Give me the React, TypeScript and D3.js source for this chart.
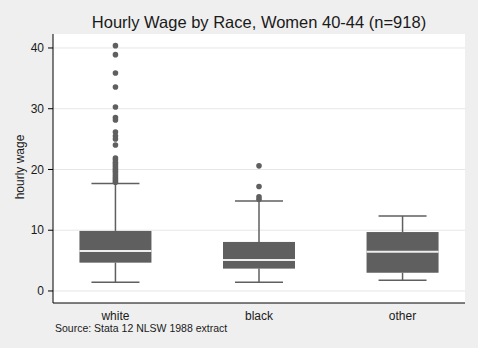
import React from "react";
import * as d3 from "d3";

const categories = ["white", "black", "other"];
const lowerWhisker = [1.43, 1.43, 1.76];
const q1 = [4.66, 3.68, 3.0];
const median = [6.58, 5.1, 6.47];
const q3 = [9.88, 8.07, 9.7];
const upperWhisker = [17.7, 14.8, 12.35];
const outliersWhite = [40.38, 38.9, 35.88, 33.58, 30.29, 28.56, 28.15, 26.17, 25.51, 25.02, 24.03, 21.9, 21.6, 21.2, 20.9, 20.6, 20.3, 20.0, 19.7, 19.4, 19.1, 18.8, 18.5, 18.2, 17.9];
const outliersBlack = [20.6, 17.2, 15.5, 15.1];
const outliersOther: number[] = [];
const outliers = [outliersWhite, outliersBlack, outliersOther];
const yTicks = [0, 10, 20, 30, 40];

const W = 478, H = 348;
const left = 53, right = 465, top = 34, bottom = 303;
const GRAY = "#5f5f5f";
const FONT = "Arial, 'Liberation Sans', sans-serif";

export default function App() {
  const y = d3.scaleLinear().domain([-1.98, 42.3]).range([bottom, top]);
  const x = d3.scalePoint<string>().domain(categories).range([left, right]).padding(0.435);
  const boxW = 72, capW = 48;
  return (
    <svg width={W} height={H} style={{ position: "absolute", left: 0, top: 0 }} fontFamily={FONT}>
      <rect x={0} y={0} width={W} height={H} fill="#efefef" />
      <rect x={left} y={top} width={right - left} height={bottom - top} fill="#ffffff" />
      {yTicks.map((t) => (
        <g key={t}>
          <line x1={left} x2={right} y1={y(t)} y2={y(t)} stroke="#e6e6e6" strokeWidth={1} />
          <line x1={left - 5} x2={left} y1={y(t)} y2={y(t)} stroke="#000" strokeWidth={1} />
          <text x={left - 9} y={y(t)} dy="0.35em" textAnchor="end" fontSize={12} fill="#1a1a1a">{t}</text>
        </g>
      ))}
      {categories.map((c, i) => {
        const cx = x(c)!;
        return (
          <g key={c}>
            <line x1={cx} x2={cx} y1={y(upperWhisker[i])} y2={y(q3[i])} stroke={GRAY} strokeWidth={1.5} />
            <line x1={cx} x2={cx} y1={y(q1[i])} y2={y(lowerWhisker[i])} stroke={GRAY} strokeWidth={1.5} />
            <line x1={cx - capW / 2} x2={cx + capW / 2} y1={y(upperWhisker[i])} y2={y(upperWhisker[i])} stroke={GRAY} strokeWidth={1.5} />
            <line x1={cx - capW / 2} x2={cx + capW / 2} y1={y(lowerWhisker[i])} y2={y(lowerWhisker[i])} stroke={GRAY} strokeWidth={1.5} />
            <rect x={cx - boxW / 2} y={y(q3[i])} width={boxW} height={y(q1[i]) - y(q3[i])} fill={GRAY} />
            <line x1={cx - boxW / 2} x2={cx + boxW / 2} y1={y(median[i])} y2={y(median[i])} stroke="#eeeeee" strokeWidth={2} />
            {outliers[i].map((v, j) => (
              <circle key={j} cx={cx} cy={y(v)} r={2.8} fill={GRAY} />
            ))}
            <text x={cx} y={319.5} textAnchor="middle" fontSize={12} fill="#1a1a1a">{c}</text>
          </g>
        );
      })}
      <line x1={left} x2={left} y1={top} y2={bottom} stroke="#000" strokeWidth={1} />
      <line x1={left} x2={right} y1={bottom} y2={bottom} stroke="#000" strokeWidth={1} />
      <text transform={`translate(24,167) rotate(-90)`} textAnchor="middle" fontSize={12} fill="#1a1a1a">hourly wage</text>
      <text x={259} y={28} textAnchor="middle" fontSize={16.5} fill="#1a1a1a">Hourly Wage by Race, Women 40-44 (n=918)</text>
      <text x={55} y={332} fontSize={10.5} fill="#1a1a1a">Source: Stata 12 NLSW 1988 extract</text>
    </svg>
  );
}
